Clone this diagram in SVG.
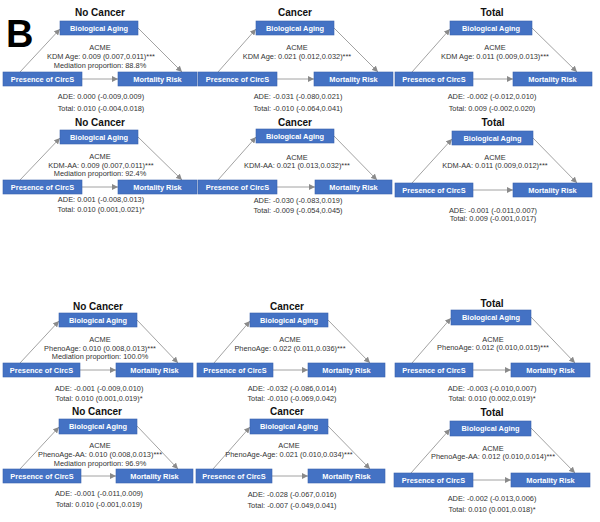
<svg xmlns="http://www.w3.org/2000/svg" width="600" height="522" viewBox="0 0 600 522">
<defs>
<marker id="ah" markerUnits="userSpaceOnUse" markerWidth="6" markerHeight="6" refX="6" refY="3" orient="auto">
<path d="M0,0 L6,3 L0,6 z" fill="#8a8a8a"/>
</marker>
<style>
.box{fill:#4472c4;stroke:#3a62ad;stroke-width:0.6}
.bl{font-family:"Liberation Sans",Arial,sans-serif;font-weight:bold;font-size:7.4px;fill:#ffffff;text-anchor:middle}
.tt{font-family:"Liberation Sans",Arial,sans-serif;font-weight:bold;font-size:10px;fill:#111111;text-anchor:middle}
.tx{font-family:"Liberation Sans",Arial,sans-serif;font-size:7.4px;fill:#333333;text-anchor:middle}
.cn{stroke:#8a8a8a;stroke-width:0.8;fill:none;marker-end:url(#ah)}
</style>
</defs>
<rect width="600" height="522" fill="#ffffff"/>
<text x="6" y="47" font-family="Liberation Sans,Arial,sans-serif" font-weight="bold" font-size="38" fill="#000">B</text>

<g id="connectors">
<line class="cn" x1="20" y1="72" x2="60" y2="29"/><line class="cn" x1="138" y1="28" x2="182" y2="72"/><line class="cn" x1="82" y1="79" x2="118" y2="79"/>
<line class="cn" x1="218" y1="72" x2="256" y2="29"/><line class="cn" x1="334" y1="28" x2="378" y2="72"/><line class="cn" x1="277" y1="79" x2="314" y2="79"/>
<line class="cn" x1="412" y1="72" x2="450" y2="29"/><line class="cn" x1="532" y1="28" x2="577" y2="72"/><line class="cn" x1="473" y1="79" x2="513" y2="79"/>
<line class="cn" x1="20" y1="180" x2="60" y2="138"/><line class="cn" x1="138" y1="137" x2="182" y2="180"/><line class="cn" x1="82" y1="187" x2="118" y2="187"/>
<line class="cn" x1="218" y1="180" x2="256" y2="137"/><line class="cn" x1="334" y1="136" x2="377" y2="180"/><line class="cn" x1="277" y1="187" x2="315" y2="187"/>
<line class="cn" x1="412" y1="183" x2="452" y2="139"/><line class="cn" x1="533" y1="138" x2="577" y2="183"/><line class="cn" x1="473" y1="190" x2="513" y2="190"/>
<line class="cn" x1="20" y1="363" x2="59" y2="321"/><line class="cn" x1="137" y1="320" x2="178" y2="363"/><line class="cn" x1="80" y1="370" x2="116" y2="370"/>
<line class="cn" x1="214" y1="363" x2="250" y2="321"/><line class="cn" x1="328" y1="320" x2="370" y2="363"/><line class="cn" x1="273" y1="370" x2="308" y2="370"/>
<line class="cn" x1="412" y1="363" x2="451" y2="318"/><line class="cn" x1="531" y1="317" x2="575" y2="363"/><line class="cn" x1="473" y1="370" x2="511" y2="370"/>
<line class="cn" x1="20" y1="469" x2="59" y2="427"/><line class="cn" x1="137" y1="426" x2="178" y2="469"/><line class="cn" x1="81" y1="476" x2="116" y2="476"/>
<line class="cn" x1="213" y1="469" x2="250" y2="427"/><line class="cn" x1="328" y1="426" x2="370" y2="469"/><line class="cn" x1="272" y1="476" x2="308" y2="476"/>
<line class="cn" x1="411" y1="473" x2="450" y2="429"/><line class="cn" x1="531" y1="428" x2="575" y2="473"/><line class="cn" x1="473" y1="480" x2="511" y2="480"/>
</g>

<!-- Panel 1 -->
<g id="p1">
<text class="tt" x="100" y="16">No Cancer</text>
<g id="p1-bio"><rect class="box" x="60" y="21" width="78" height="14"/><text class="bl" x="99" y="30.6">Biological Aging</text></g>
<g id="p1-pres"><rect class="box" x="3" y="72" width="79" height="14"/><text class="bl" x="42.5" y="81.6">Presence of CircS</text></g>
<g id="p1-mort"><rect class="box" x="118" y="72" width="79" height="14"/><text class="bl" x="157.5" y="81.6">Mortality Risk</text></g>
<text class="tx" x="100" y="49.5">ACME</text>
<text class="tx" x="101" y="58.5">KDM Age: 0.009 (0.007,0.011)***</text>
<text class="tx" x="100" y="67.5">Mediation proportion: 88.8%</text>
<text class="tx" x="101" y="99">ADE: 0.000 (-0.009,0.009)</text>
<text class="tx" x="101" y="110.5">Total: 0.010 (-0.004,0.018)</text>
</g>

<!-- Panel 2 -->
<g id="p2">
<text class="tt" x="295" y="16">Cancer</text>
<g id="p2-bio"><rect class="box" x="256" y="21" width="78" height="14"/><text class="bl" x="295" y="30.6">Biological Aging</text></g>
<g id="p2-pres"><rect class="box" x="198" y="72" width="79" height="14"/><text class="bl" x="237.5" y="81.6">Presence of CircS</text></g>
<g id="p2-mort"><rect class="box" x="314" y="72" width="79" height="14"/><text class="bl" x="353.5" y="81.6">Mortality Risk</text></g>
<text class="tx" x="297" y="49.5">ACME</text>
<text class="tx" x="297" y="58.5">KDM Age: 0.021 (0.012,0.032)***</text>
<text class="tx" x="298" y="99">ADE: -0.031 (-0.080,0.021)</text>
<text class="tx" x="298" y="110.5">Total: -0.010 (-0.064,0.041)</text>
</g>

<!-- Panel 3 -->
<g id="p3">
<text class="tt" x="492" y="16">Total</text>
<g id="p3-bio"><rect class="box" x="450" y="21" width="82" height="14"/><text class="bl" x="491" y="30.6">Biological Aging</text></g>
<g id="p3-pres"><rect class="box" x="395" y="72" width="78" height="14"/><text class="bl" x="434" y="81.6">Presence of CircS</text></g>
<g id="p3-mort"><rect class="box" x="513" y="72" width="79" height="14"/><text class="bl" x="552.5" y="81.6">Mortality Risk</text></g>
<text class="tx" x="495" y="49.5">ACME</text>
<text class="tx" x="495" y="58.5">KDM Age: 0.011 (0.009,0.013)***</text>
<text class="tx" x="492" y="98.5">ADE: -0.002 (-0.012,0.010)</text>
<text class="tx" x="492" y="110.5">Total: 0.009 (-0.002,0.020)</text>
</g>

<!-- Panel 4 -->
<g id="p4">
<text class="tt" x="100" y="126">No Cancer</text>
<g id="p4-bio"><rect class="box" x="60" y="130" width="78" height="14"/><text class="bl" x="99" y="139.6">Biological Aging</text></g>
<g id="p4-pres"><rect class="box" x="3" y="180" width="79" height="14"/><text class="bl" x="42.5" y="189.6">Presence of CircS</text></g>
<g id="p4-mort"><rect class="box" x="118" y="180" width="79" height="14"/><text class="bl" x="157.5" y="189.6">Mortality Risk</text></g>
<text class="tx" x="100" y="159">ACME</text>
<text class="tx" x="101" y="167.5">KDM-AA: 0.009 (0.007,0.011)***</text>
<text class="tx" x="100" y="175.5">Mediation proportion: 92.4%</text>
<text class="tx" x="101" y="202">ADE: 0.001 (-0.008,0.013)</text>
<text class="tx" x="101" y="211.5">Total: 0.010 (0.001,0.021)*</text>
</g>

<!-- Panel 5 -->
<g id="p5">
<text class="tt" x="295" y="126">Cancer</text>
<g id="p5-bio"><rect class="box" x="256" y="129" width="78" height="14"/><text class="bl" x="295" y="138.6">Biological Aging</text></g>
<g id="p5-pres"><rect class="box" x="198" y="180" width="79" height="14"/><text class="bl" x="237.5" y="189.6">Presence of CircS</text></g>
<g id="p5-mort"><rect class="box" x="315" y="180" width="77" height="14"/><text class="bl" x="353.5" y="189.6">Mortality Risk</text></g>
<text class="tx" x="297" y="159.5">ACME</text>
<text class="tx" x="297" y="167.5">KDM-AA: 0.021 (0.013,0.032)***</text>
<text class="tx" x="298" y="202.5">ADE: -0.030 (-0.083,0.019)</text>
<text class="tx" x="298" y="212.5">Total: -0.009 (-0.054,0.045)</text>
</g>

<!-- Panel 6 -->
<g id="p6">
<text class="tt" x="493" y="126">Total</text>
<g id="p6-bio"><rect class="box" x="452" y="131" width="81" height="14"/><text class="bl" x="492.5" y="140.6">Biological Aging</text></g>
<g id="p6-pres"><rect class="box" x="395" y="183" width="78" height="14"/><text class="bl" x="434" y="192.6">Presence of CircS</text></g>
<g id="p6-mort"><rect class="box" x="513" y="183" width="79" height="14"/><text class="bl" x="552.5" y="192.6">Mortality Risk</text></g>
<text class="tx" x="495" y="160">ACME</text>
<text class="tx" x="495" y="168">KDM-AA: 0.011 (0.009,0.012)***</text>
<text class="tx" x="493" y="212.5">ADE: -0.001 (-0.011,0.007)</text>
<text class="tx" x="493" y="221">Total: 0.009 (-0.001,0.017)</text>
</g>

<!-- Panel 7 -->
<g id="p7">
<text class="tt" x="98" y="309.5">No Cancer</text>
<g id="p7-bio"><rect class="box" x="59" y="313" width="78" height="14"/><text class="bl" x="98" y="322.6">Biological Aging</text></g>
<g id="p7-pres"><rect class="box" x="3" y="363" width="77" height="14"/><text class="bl" x="41.5" y="372.6">Presence of CircS</text></g>
<g id="p7-mort"><rect class="box" x="116" y="363" width="77" height="14"/><text class="bl" x="154.5" y="372.6">Mortality Risk</text></g>
<text class="tx" x="100" y="341.5">ACME</text>
<text class="tx" x="100" y="350.5">PhenoAge: 0.010 (0.008,0.013)***</text>
<text class="tx" x="100" y="359">Mediation proportion: 100.0%</text>
<text class="tx" x="99" y="390.5">ADE: -0.001 (-0.009,0.010)</text>
<text class="tx" x="99" y="400.5">Total: 0.010 (0.001,0.019)*</text>
</g>

<!-- Panel 8 -->
<g id="p8">
<text class="tt" x="287" y="309.5">Cancer</text>
<g id="p8-bio"><rect class="box" x="250" y="313" width="78" height="14"/><text class="bl" x="289" y="322.6">Biological Aging</text></g>
<g id="p8-pres"><rect class="box" x="197" y="363" width="76" height="14"/><text class="bl" x="235" y="372.6">Presence of CircS</text></g>
<g id="p8-mort"><rect class="box" x="308" y="363" width="77" height="14"/><text class="bl" x="346.5" y="372.6">Mortality Risk</text></g>
<text class="tx" x="290" y="341.5">ACME</text>
<text class="tx" x="290" y="350.5">PhenoAge: 0.022 (0.011,0.036)***</text>
<text class="tx" x="292" y="390.5">ADE: -0.032 (-0.086,0.014)</text>
<text class="tx" x="292" y="401">Total: -0.010 (-0.069,0.042)</text>
</g>

<!-- Panel 9 -->
<g id="p9">
<text class="tt" x="492" y="306.5">Total</text>
<g id="p9-bio"><rect class="box" x="451" y="310" width="80" height="15"/><text class="bl" x="491" y="320.1">Biological Aging</text></g>
<g id="p9-pres"><rect class="box" x="395" y="363" width="78" height="14"/><text class="bl" x="434" y="372.6">Presence of CircS</text></g>
<g id="p9-mort"><rect class="box" x="511" y="363" width="79" height="14"/><text class="bl" x="550.5" y="372.6">Mortality Risk</text></g>
<text class="tx" x="493" y="341.5">ACME</text>
<text class="tx" x="493" y="350">PhenoAge: 0.012 (0.010,0.015)***</text>
<text class="tx" x="492" y="390.5">ADE: -0.003 (-0.010,0.007)</text>
<text class="tx" x="492" y="401">Total: 0.010 (0.002,0.019)*</text>
</g>

<!-- Panel 10 -->
<g id="p10">
<text class="tt" x="97" y="415">No Cancer</text>
<g id="p10-bio"><rect class="box" x="59" y="419" width="78" height="15"/><text class="bl" x="98" y="429.1">Biological Aging</text></g>
<g id="p10-pres"><rect class="box" x="3" y="469" width="78" height="14"/><text class="bl" x="42" y="478.6">Presence of CircS</text></g>
<g id="p10-mort"><rect class="box" x="116" y="469" width="77" height="14"/><text class="bl" x="154.5" y="478.6">Mortality Risk</text></g>
<text class="tx" x="100" y="448">ACME</text>
<text class="tx" x="100" y="457">PhenoAge-AA: 0.010 (0.008,0.013)***</text>
<text class="tx" x="100" y="465.5">Mediation proportion: 96.9%</text>
<text class="tx" x="99" y="496">ADE: -0.001 (-0.011,0.009)</text>
<text class="tx" x="99" y="507">Total: 0.010 (-0.001,0.019)</text>
</g>

<!-- Panel 11 -->
<g id="p11">
<text class="tt" x="287" y="415">Cancer</text>
<g id="p11-bio"><rect class="box" x="250" y="419" width="78" height="15"/><text class="bl" x="289" y="429.1">Biological Aging</text></g>
<g id="p11-pres"><rect class="box" x="196" y="469" width="76" height="14"/><text class="bl" x="234" y="478.6">Presence of CircS</text></g>
<g id="p11-mort"><rect class="box" x="308" y="469" width="77" height="14"/><text class="bl" x="346.5" y="478.6">Mortality Risk</text></g>
<text class="tx" x="289" y="448">ACME</text>
<text class="tx" x="289" y="457">PhenoAge-Age: 0.021 (0.010,0.034)***</text>
<text class="tx" x="292" y="497">ADE: -0.028 (-0.067,0.016)</text>
<text class="tx" x="292" y="508">Total: -0.007 (-0.049,0.041)</text>
</g>

<!-- Panel 12 -->
<g id="p12">
<text class="tt" x="492" y="416">Total</text>
<g id="p12-bio"><rect class="box" x="450" y="421" width="81" height="15"/><text class="bl" x="490.5" y="431.1">Biological Aging</text></g>
<g id="p12-pres"><rect class="box" x="394" y="473" width="79" height="14"/><text class="bl" x="433.5" y="482.6">Presence of CircS</text></g>
<g id="p12-mort"><rect class="box" x="511" y="473" width="79" height="14"/><text class="bl" x="550.5" y="482.6">Mortality Risk</text></g>
<text class="tx" x="493" y="450.5">ACME</text>
<text class="tx" x="493" y="459">PhenoAge-AA: 0.012 (0.010,0.014)***</text>
<text class="tx" x="492" y="501">ADE: -0.002 (-0.013,0.006)</text>
<text class="tx" x="492" y="512">Total: 0.010 (0.001,0.018)*</text>
</g>
</svg>
